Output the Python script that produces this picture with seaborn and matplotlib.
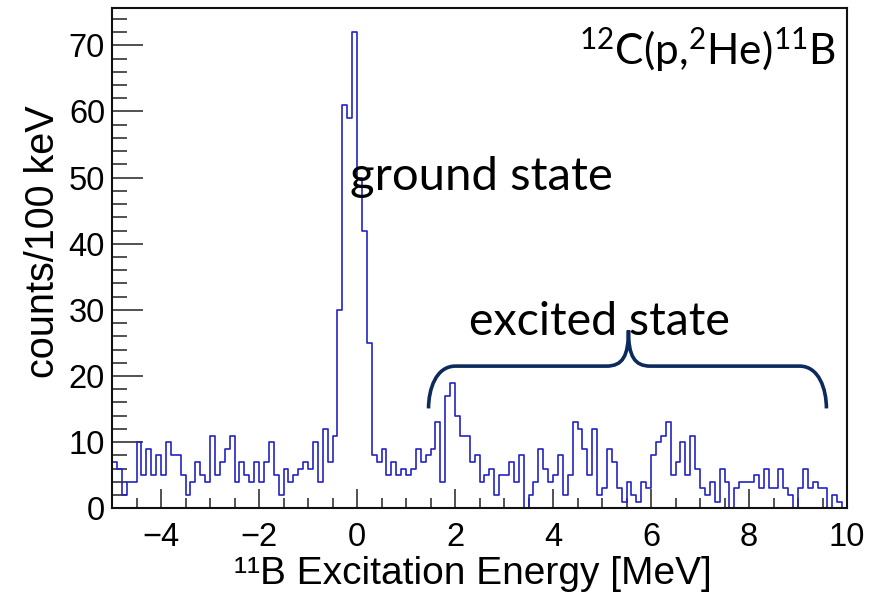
import numpy as np
import pandas as pd
import matplotlib
matplotlib.use("Agg")
import matplotlib.pyplot as plt
import seaborn as sns
from matplotlib.path import Path
from matplotlib.patches import PathPatch
from matplotlib.ticker import MultipleLocator

# 11B excitation-energy spectrum, 100 keV bins from -5 to 10 MeV
e_min = -5.0
e_max = 10.0
n_bins = 150

counts = [
    7, 6, 2, 4, 4, 10, 5, 9, 5, 8,        # -5.0 .. -4.1
    5, 10, 8, 8, 5, 2, 4, 7, 5, 4,        # -4.0 .. -3.1
    11, 5, 7, 9, 11, 4, 7, 5, 4, 7,       # -3.0 .. -2.1
    4, 7, 10, 5, 2, 6, 4, 5, 6, 7,        # -2.0 .. -1.1
    6, 10, 4, 12, 7, 11, 30, 61, 59, 72,  # -1.0 .. -0.1
    50, 42, 25, 8, 7, 9, 5, 7, 5, 6,      #  0.0 ..  0.9
    5, 6, 9, 7, 8, 9, 13, 4, 17, 19,      #  1.0 ..  1.9
    14, 11, 11, 7, 8, 4, 5, 6, 2, 5,      #  2.0 ..  2.9
    5, 7, 4, 8, 0, 2, 4, 9, 6, 4,         #  3.0 ..  3.9
    5, 8, 2, 5, 13, 12, 9, 5, 12, 2,      #  4.0 ..  4.9
    3, 9, 7, 3, 1, 4, 2, 1, 4, 3,         #  5.0 ..  5.9
    8, 10, 11, 13, 5, 7, 10, 5, 11, 6,    #  6.0 ..  6.9
    3, 2, 4, 1, 6, 4, 0, 3, 4, 4,         #  7.0 ..  7.9
    4, 5, 3, 6, 3, 3, 6, 3, 2, 0,         #  8.0 ..  8.9
    3, 6, 3, 4, 3, 3, 0, 2, 1, 0,         #  9.0 ..  9.9
]

x_ticks = [-4, -2, 0, 2, 4, 6, 8, 10]
y_ticks = [0, 10, 20, 30, 40, 50, 60, 70]

edges = np.linspace(e_min, e_max, n_bins + 1)
centers = 0.5 * (edges[:-1] + edges[1:])
df = pd.DataFrame({"energy": centers, "counts": np.asarray(counts, dtype=float)})

sns.set_theme(style="white")
plt.rcParams["font.family"] = ["Liberation Sans", "DejaVu Sans"]
plt.rcParams["mathtext.fontset"] = "custom"
plt.rcParams["mathtext.rm"] = "Lato"
plt.rcParams["mathtext.it"] = "Lato:italic"
plt.rcParams["mathtext.bf"] = "Lato:bold"

fig = plt.figure(figsize=(8.84, 5.96), dpi=100)
ax = fig.add_axes([112 / 884, 1 - 508.3 / 596, 735 / 884, 500 / 596])

sns.histplot(data=df, x="energy", weights="counts", bins=n_bins,
             binrange=(e_min, e_max), element="step", fill=False,
             color="#2424c0", linewidth=1.2, ax=ax)

ax.set_xlim(e_min, e_max)
ax.set_ylim(0, max(counts) * 1.05)

ax.set_xticks(x_ticks)
ax.set_xticklabels([f"{t:d}".replace("-", "\u2212") for t in x_ticks])
ax.set_yticks(y_ticks)
ax.xaxis.set_minor_locator(MultipleLocator(0.5))
ax.yaxis.set_minor_locator(MultipleLocator(2))

ax.tick_params(axis="both", which="both", direction="in", colors="#333333",
               labelcolor="black", labelsize=23.5, width=1.2,
               bottom=True, left=True, top=False, right=False)
ax.tick_params(axis="y", which="major", length=22, pad=5)
ax.tick_params(axis="y", which="minor", length=11)
ax.tick_params(axis="x", which="major", length=14, pad=10)
ax.tick_params(axis="x", which="minor", length=7)

for sp in ax.spines.values():
    sp.set_visible(True)
    sp.set_color("#111111")
    sp.set_linewidth(1.5)

ax.set_xlabel("¹¹B Excitation Energy [MeV]", fontsize=28, color="black")
ax.set_ylabel("counts/100 keV", fontsize=28.5, color="black")
ax.xaxis.set_label_coords(0.491, -0.096)
ax.yaxis.set_label_coords(-0.068, 0.533)

# annotations
note_font = ["Lato", "DejaVu Sans"]
ax.text(9.78, 67.0, r"$\mathregular{^{12}C(p{,}^{2}He)^{11}B}$", ha="right",
        va="baseline", fontsize=30.5, family=note_font, color="black")
ax.text(-0.14, 48.2, "ground state", ha="left", va="baseline",
        fontsize=34, family=note_font, color="black")
ax.text(4.95, 26.2, "excited state", ha="center", va="baseline",
        fontsize=33.5, family=note_font, color="black")

# curly brace spanning the excited-state region
brace_left, brace_right, brace_mid = 1.46, 9.58, 5.54
brace_low, brace_level, brace_tip = 15.1, 21.5, 26.9
verts = [
    (brace_left, brace_low),
    (brace_left, brace_level - 3.5), (brace_left + 0.15, brace_level), (brace_left + 0.55, brace_level),
    (brace_mid - 0.45, brace_level),
    (brace_mid - 0.12, brace_level), (brace_mid, brace_level + 1.5), (brace_mid, brace_tip),
    (brace_mid, brace_level + 1.5), (brace_mid + 0.12, brace_level), (brace_mid + 0.45, brace_level),
    (brace_right - 0.55, brace_level),
    (brace_right - 0.15, brace_level), (brace_right, brace_level - 3.5), (brace_right, brace_low),
]
codes = [Path.MOVETO,
         Path.CURVE4, Path.CURVE4, Path.CURVE4,
         Path.LINETO,
         Path.CURVE4, Path.CURVE4, Path.CURVE4,
         Path.CURVE4, Path.CURVE4, Path.CURVE4,
         Path.LINETO,
         Path.CURVE4, Path.CURVE4, Path.CURVE4]
ax.add_patch(PathPatch(Path(verts, codes), facecolor="none",
                       edgecolor="#0d2a5c", linewidth=2.6, capstyle="butt"))

fig.savefig("out.png", dpi=100, facecolor="white")
